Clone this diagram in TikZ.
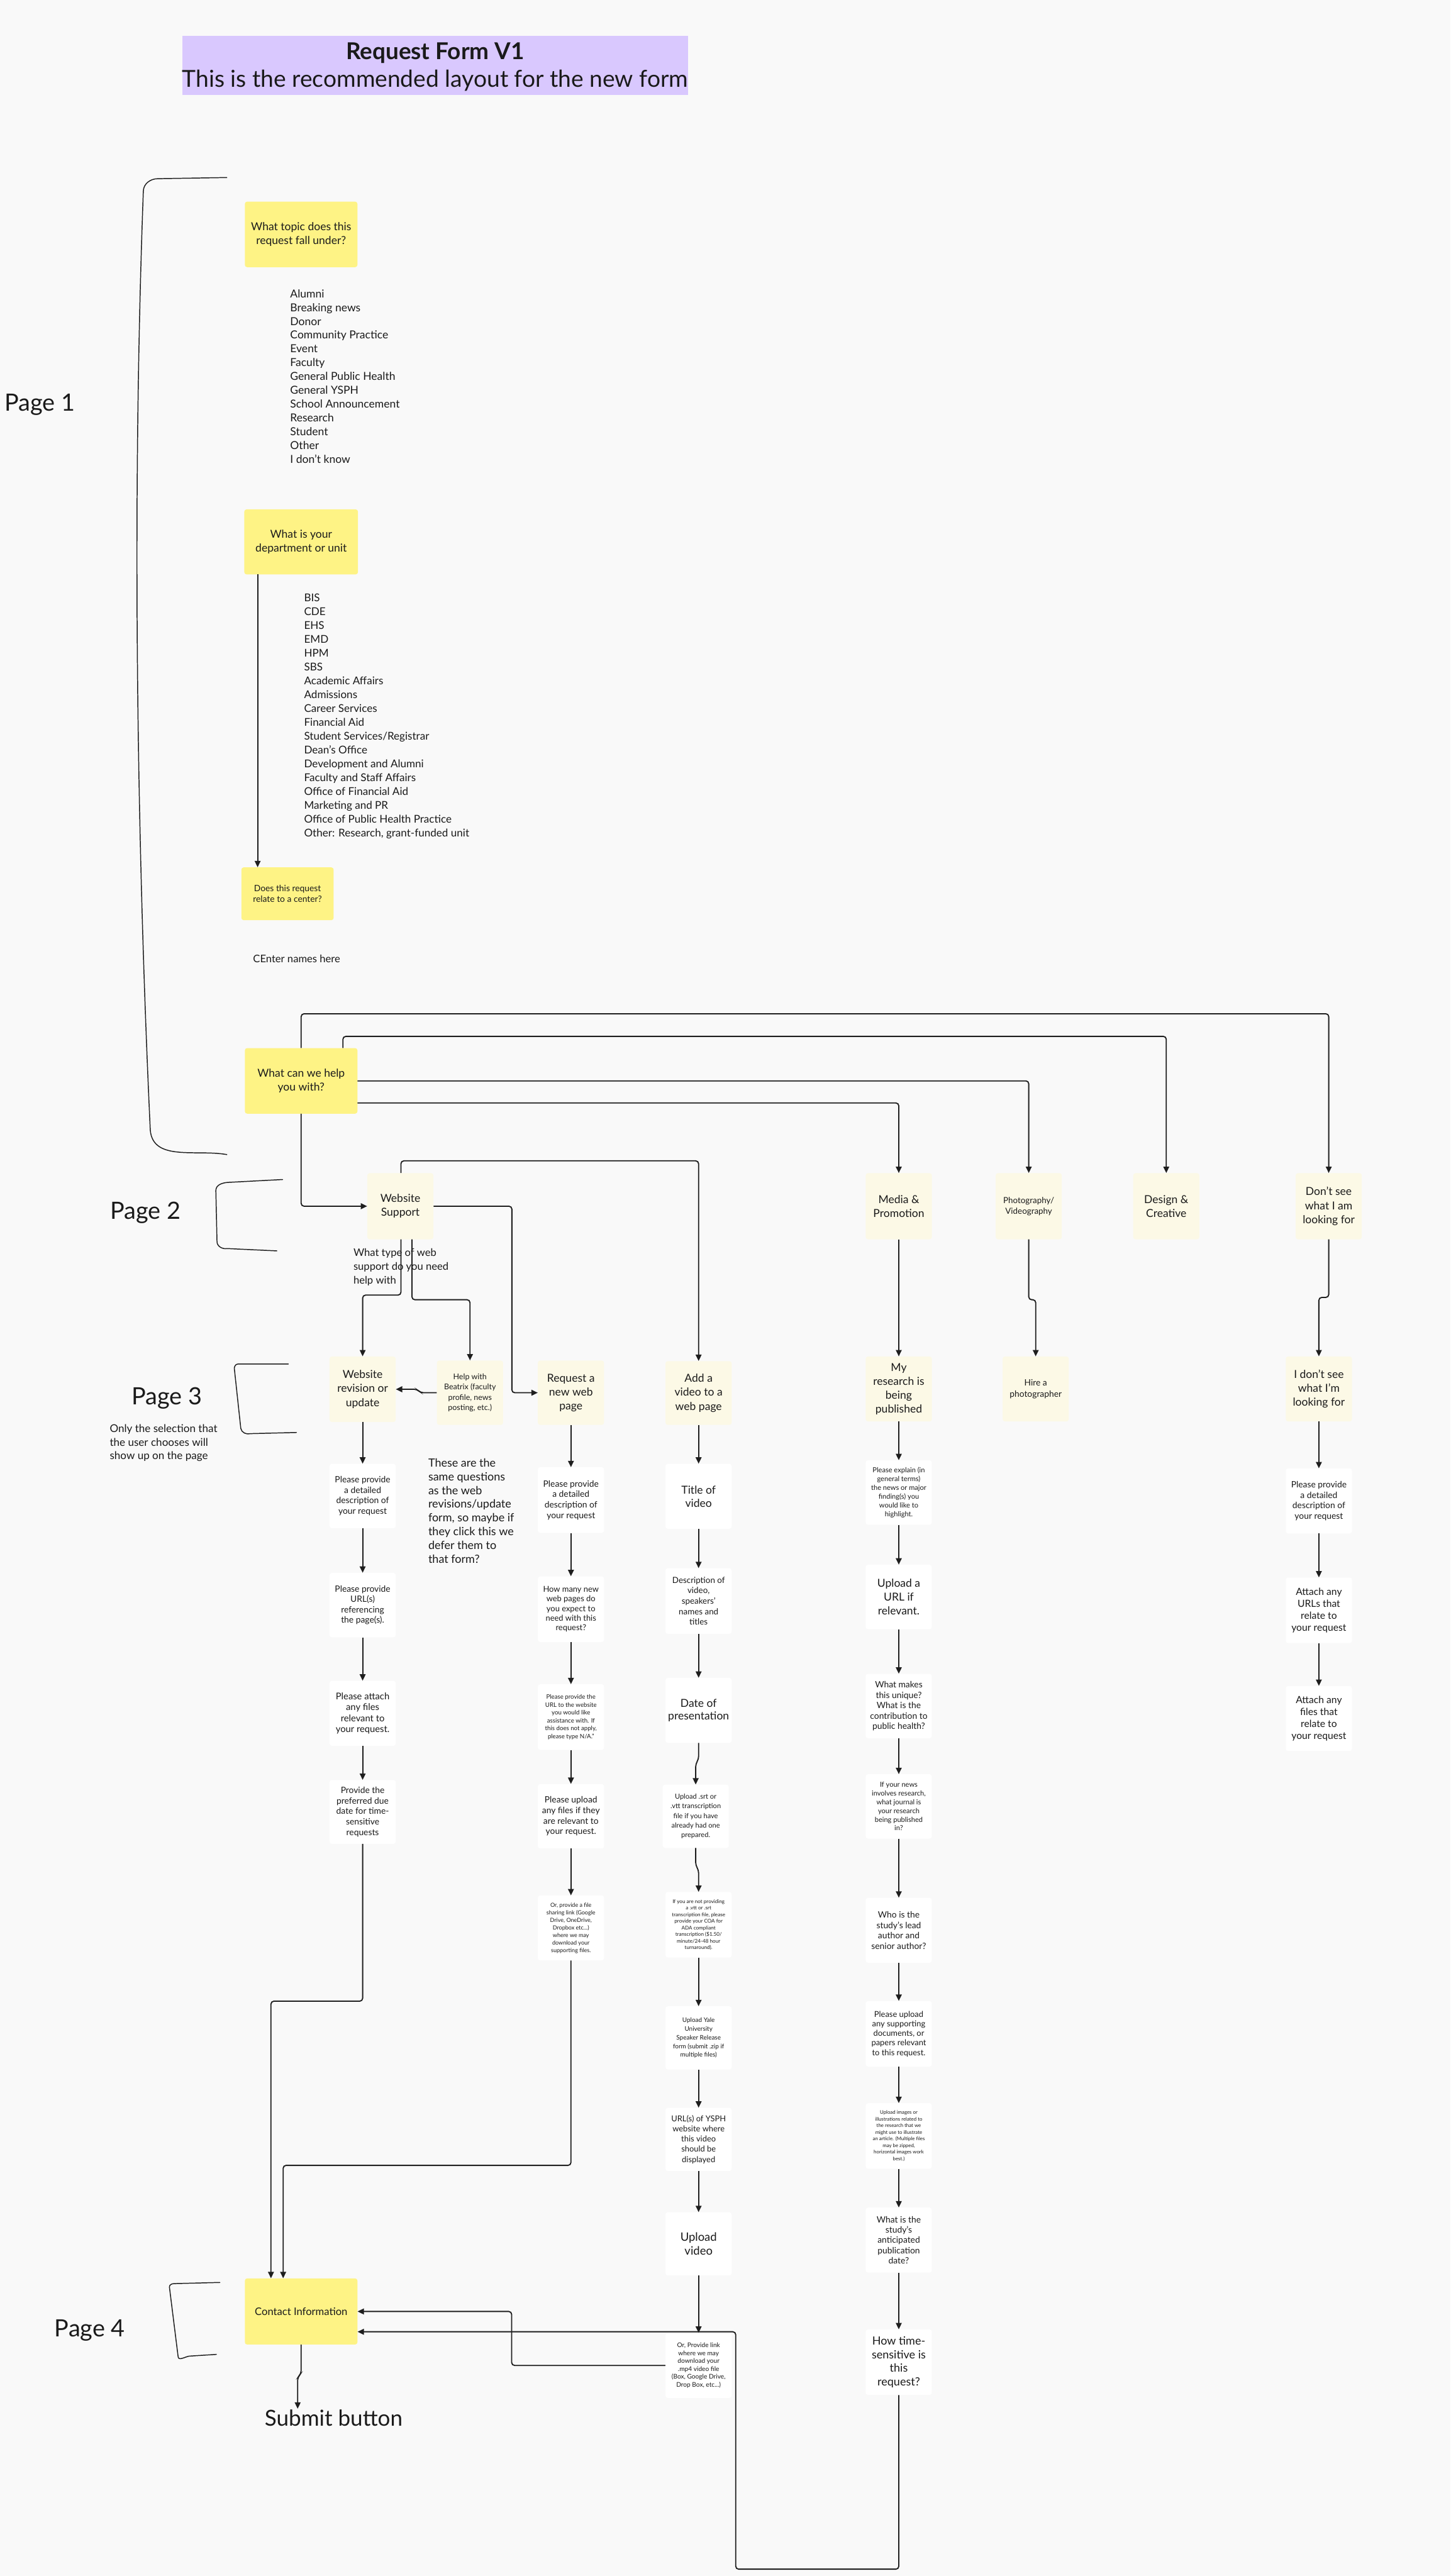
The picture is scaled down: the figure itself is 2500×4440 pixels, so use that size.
\documentclass[tikz,border=0pt]{standalone}
\usepackage{fontspec}
\setmainfont{Lato}
\usetikzlibrary{arrows.meta,calc}
\definecolor{bg}{HTML}{F9F9F9}
\definecolor{yel}{HTML}{FEF385}
\definecolor{cream}{HTML}{FCF9E6}
\definecolor{lav}{HTML}{D9C8FE}
\definecolor{lc}{HTML}{1E1E1E}
\definecolor{txt}{HTML}{1A1A1A}
\newcommand\fz[2]{\fontsize{#1}{#2}\selectfont}
\tikzset{
  base/.style={rounded corners=4pt, align=center, inner sep=0pt, text=txt},
  ybox/.style={base, fill=yel, minimum width=194pt, minimum height=113pt},
  cbox/.style={base, fill=cream, minimum width=114pt, minimum height=112pt},
  wbox/.style={base, fill=white, minimum width=114pt, minimum height=112pt},
  plain/.style={inner sep=0pt, text=txt},
  conn/.style={draw=lc, line width=2pt, rounded corners=5pt},
  arr/.style={conn, -{Triangle[length=11pt,width=10pt]}},
  brk/.style={draw=lc, line width=1.6pt, line cap=round, line join=round},
}
\begin{document}
\begin{tikzpicture}[x=1pt,y=-1pt]
\fill[bg] (0,0) rectangle (2500,4440);
\useasboundingbox (0,0) rectangle (2500,4440);

% title
\node[fill=lav, minimum width=872pt, minimum height=102pt, inner sep=0pt] (title) at (750,113) {};
\node[plain, font={\fz{40}{44}\bfseries}] (t1) at (750,91) {Request Form V1};
\node[plain, font={\fz{40.3}{46}}] (t2) at (750,139) {This is the recommended layout for the new form};

% page labels
\node[plain, anchor=west, font={\fz{41}{46}}] (p1) at (8,697) {Page 1};
\node[plain, anchor=west, font={\fz{41}{46}}] (p2) at (190,2090) {Page 2};
\node[plain, anchor=west, font={\fz{41}{46}}] (p3) at (227,2410) {Page 3};
\node[plain, anchor=west, font={\fz{41}{46}}] (p4) at (94,4017) {Page 4};
\node[plain, anchor=west, align=left, font={\fz{18.5}{23.5}}] (p3note) at (189,2487) {Only the selection that\\the user chooses will\\show up on the page};

% brackets
\draw[brk] (391,306) -- (272,308) to[out=180,in=90] (247,330) .. controls (226,900) and (238,1500) .. (259,1948) to[out=-85,in=170] (391,1990);
\draw[brk] (487,2033) -- (392,2038) to[out=185,in=90] (372,2052) -- (374,2140) to[out=-90,in=190] (392,2152) -- (477,2156);
\draw[brk] (497,2351) -- (410,2351) to[out=180,in=100] (404,2360) -- (415,2462) to[out=-80,in=195] (432,2471) -- (511,2469);
\draw[brk] (379,3934) -- (300,3936) to[out=180,in=95] (292,3942) -- (307,4062) to[out=-85,in=190] (326,4061) -- (373,4058);

% page 1
\node[ybox, font={\fz{19}{24}}] (q1) at (519,404) {What topic does this\\request fall under?};
\node[plain, anchor=west, align=left, font={\fz{19}{23.75}}] (topics) at (500,648.5) {Alumni\\Breaking news\\Donor\\Community Practice\\Event\\Faculty\\General Public Health\\General YSPH\\School Announcement\\Research\\Student\\Other\\I don't know};
\node[ybox, minimum width=196pt, minimum height=112pt, font={\fz{19}{24}}] (q2) at (519,934) {What is your\\department or unit};
\node[plain, anchor=west, align=left, font={\fz{18.5}{23.8}}] (depts) at (524,1234.5) {BIS\\CDE\\EHS\\EMD\\HPM\\SBS\\Academic Affairs\\Admissions\\Career Services\\Financial Aid\\Student Services/Registrar\\Dean’s Office\\Development and Alumni\\Faculty and Staff Affairs\\Office of Financial Aid\\Marketing and PR\\Office of Public Health Practice\\Other: Research, grant-funded unit};
\node[ybox, minimum width=159pt, minimum height=91pt, font={\fz{15}{19}}] (q3) at (495.5,1540.5) {Does this request\\relate to a center?};
\node[plain, anchor=west, font={\fz{18}{22}}] (cnames) at (436,1653) {CEnter names here};
\draw[arr] ($(q2.south)+(-75,0)$) -- ($(q3.north)+(-51.5,0)$);

% page 2
\node[ybox, font={\fz{19}{24}}] (wch) at (519,1863) {What can we help\\you with?};
\node[cbox, minimum height=114pt, font={\fz{19}{24}}] (ws) at (690,2079) {Website\\Support};
\node[cbox, minimum height=114pt, font={\fz{19}{24}}] (mp) at (1549,2079) {Media \&\\Promotion};
\node[cbox, minimum height=114pt, font={\fz{14.5}{18.5}}] (pv) at (1773,2079) {Photography/\\Videography};
\node[cbox, minimum height=114pt, font={\fz{19}{24}}] (dc) at (2010,2079) {Design \&\\Creative};
\node[cbox, minimum height=114pt, font={\fz{19}{24}}] (dsee) at (2290,2079) {Don't see\\what I am\\looking for};
\node[plain, anchor=west, align=left, font={\fz{18}{24}}] (wtype) at (609,2184) {What type of web\\support do you need\\help with};

\draw[arr] (wch.north) -- ++(0,-59) -| (dsee.north);
\draw[arr] ($(wch.north)+(72,0)$) -- ++(0,-20) -| (dc.north);
\draw[arr] (wch.east) -| (pv.north);
\draw[arr] ($(wch.east)+(0,38)$) -| (mp.north);
\draw[arr] (wch.south) |- (ws.west);

% page 3 headers
\node[cbox, minimum height=113pt, font={\fz{19}{24}}] (wr) at (625,2394.5) {Website\\revision or\\update};
\node[cbox, minimum height=111pt, font={\fz{13.5}{18}}] (bx) at (810,2400.5) {Help with\\Beatrix (faculty\\profile, news\\posting, etc.)};
\node[cbox, minimum height=111pt, font={\fz{19}{24}}] (rnwp) at (984,2400.5) {Request a\\new web\\page};
\node[cbox, minimum height=110pt, font={\fz{19}{24}}] (av) at (1204,2401) {Add a\\video to a\\web page};
\node[cbox, font={\fz{19}{24}}] (myr) at (1549,2394) {My\\research is\\being\\published};
\node[cbox, font={\fz{15}{19}}] (hp) at (1785,2394) {Hire a\\photographer};
\node[cbox, font={\fz{19}{23.5}}] (ids) at (2273,2394) {I don't see\\what I'm\\looking for};
\node[plain, anchor=west, align=left, font={\fz{19.5}{23.7}}] (defer) at (738,2604) {These are the\\same questions\\as the web\\revisions/update\\form, so maybe if\\they click this we\\defer them to\\that form?};

\draw[arr] ($(ws.north)+(1,0)$) -- ++(0,-21) -| (av.north);
\draw[arr] (ws.east) -- ++(135,0) |- (rnwp.west);
\draw[arr] ($(ws.south)+(1,0)$) -- ++(0,96) -| (wr.north);
\draw[arr] ($(ws.south)+(20,0)$) -- ++(0,104) -| (bx.north);
\draw[arr] (bx.west) -- ++(-28,0) -- ++(-6,-6) -- (wr.east);
\draw[arr] (mp.south) -- (myr.north);
\draw[arr] (pv.south) -- ++(0,104) -| (hp.north);
\draw[arr] (dsee.south) -- ++(0,100) -| (ids.north);

% website revision column
\node[wbox, minimum height=111pt, font={\fz{15}{18}}] (w1) at (625,2578.5) {Please provide\\a detailed\\description of\\your request};
\node[wbox, minimum height=111pt, font={\fz{15}{18}}] (w2) at (625,2766.5) {Please provide\\URL(s)\\referencing\\the page(s).};
\node[wbox, font={\fz{16}{19}}] (w3) at (625,2953) {Please attach\\any files\\relevant to\\your request.};
\node[wbox, minimum height=110pt, font={\fz{15}{18}}] (w4) at (625,3123) {Provide the\\preferred due\\date for time-\\sensitive\\requests};

% new web page column
\node[wbox, minimum height=113pt, font={\fz{15}{18}}] (r1) at (984,2585.5) {Please provide\\a detailed\\description of\\your request};
\node[wbox, minimum height=113pt, font={\fz{14}{16.5}}] (r2) at (984,2773.5) {How many new\\web pages do\\you expect to\\need with this\\request?};
\node[wbox, minimum height=113pt, font={\fz{10.5}{13.7}}] (r3) at (984,2959.5) {Please provide the\\URL to the website\\you would like\\assistance with. If\\this does not apply,\\please type N/A."};
\node[wbox, minimum height=111pt, font={\fz{15}{18}}] (r4) at (984,3130.5) {Please upload\\any files if they\\are relevant to\\your request.};
\node[wbox, font={\fz{9.8}{13}}] (r5) at (984,3323) {Or, provide a file\\sharing link (Google\\Drive, OneDrive,\\Dropbox etc...)\\where we may\\download your\\supporting files.};

% video column
\node[wbox, font={\fz{19}{23}}] (v1) at (1204,2579) {Title of\\video};
\node[wbox, minimum height=113pt, font={\fz{14.5}{18}}] (v2) at (1204,2759.5) {Description of\\video,\\speakers'\\names and\\titles};
\node[wbox, font={\fz{19}{21}}] (v3) at (1204,2948) {Date of\\presentation};
\node[wbox, minimum height=109pt, font={\fz{12}{16.5}}] (v4) at (1199,3130.5) {Upload .srt or\\.vtt transcription\\file if you have\\already had one\\prepared.};
\node[wbox, minimum height=113pt, font={\fz{8.8}{11.4}}] (v5) at (1204,3317.5) {If you are not providing\\a .vtt or .srt\\transcription file, please\\provide your COA for\\ADA compliant\\transcription (\$1.50/\\minute/24-48 hour\\turnaround).};
\node[wbox, minimum height=109pt, font={\fz{10.8}{15}}] (v6) at (1204,3512.5) {Upload Yale\\University\\Speaker Release\\form (submit .zip if\\multiple files)};
\node[wbox, minimum height=109pt, font={\fz{14}{17.6}}] (v7) at (1204,3687.5) {URL(s) of YSPH\\website where\\this video\\should be\\displayed};
\node[wbox, minimum height=109pt, font={\fz{20}{24}}] (v8) at (1204,3867.5) {Upload\\video};
\node[wbox, font={\fz{11}{13.6}}] (v9) at (1204,4077) {Or, Provide link\\where we may\\download your\\.mp4 video file\\(Box, Google Drive,\\Drop Box, etc...)};

% media column
\node[wbox, minimum height=111pt, font={\fz{12}{15}}] (m1) at (1549,2572.5) {Please explain (in\\general terms)\\the news or major\\finding(s) you\\would like to\\highlight.};
\node[wbox, minimum height=111pt, font={\fz{19}{23.6}}] (m2) at (1549,2752.5) {Upload a\\URL if\\relevant.};
\node[wbox, minimum height=111pt, font={\fz{15}{18}}] (m3) at (1549,2940.5) {What makes\\this unique?\\What is the\\contribution to\\public health?};
\node[wbox, minimum height=111pt, font={\fz{12}{15}}] (m4) at (1549,3113.5) {If your news\\involves research,\\what journal is\\your research\\being published\\in?};
\node[wbox, font={\fz{15}{18}}] (m5) at (1549,3327) {Who is the\\study’s lead\\author and\\senior author?};
\node[wbox, minimum height=113pt, font={\fz{14}{16.5}}] (m6) at (1549,3505.5) {Please upload\\any supporting\\documents, or\\papers relevant\\to this request.};
\node[wbox, minimum height=113pt, font={\fz{8.5}{11.4}}] (m7) at (1549,3681.5) {Upload images or\\illustrations related to\\the research that we\\might use to illustrate\\an article. (Multiple files\\may be zipped,\\horizontal images work\\best.)};
\node[wbox, font={\fz{15}{17.8}}] (m8) at (1549,3861) {What is the\\study’s\\anticipated\\publication\\date?};
\node[wbox, minimum height=113pt, font={\fz{19.5}{23.5}}] (m9) at (1549,4071.5) {How time-\\sensitive is\\this\\request?};

% right column
\node[wbox, font={\fz{15}{18}}] (d1) at (2273,2587) {Please provide\\a detailed\\description of\\your request};
\node[wbox, minimum height=113pt, font={\fz{17}{20.5}}] (d2) at (2273,2775.5) {Attach any\\URLs that\\relate to\\your request};
\node[wbox, font={\fz{17}{20.5}}] (d3) at (2273,2962) {Attach any\\files that\\relate to\\your request};

% page 4
\node[ybox, minimum height=114pt, font={\fz{18}{22}}] (ci) at (519,3984) {Contact Information};
\node[plain, font={\fz{38}{44}}, inner sep=2pt] (sb) at (575,4168) {Submit button};

% chains
\foreach \a/\b in {wr/w1,w1/w2,w2/w3,w3/w4,rnwp/r1,r1/r2,r2/r3,r3/r4,r4/r5,av/v1,v1/v2,v2/v3,v5/v6,v6/v7,v7/v8,v8/v9,myr/m1,m1/m2,m2/m3,m3/m4,m4/m5,m5/m6,m6/m7,m7/m8,m8/m9,ids/d1,d1/d2,d2/d3}
  \draw[arr] (\a.south) -- (\b.north);
\draw[arr] (v3.south) -- ++(0,28) -- ++(-5,8) -- (v4.north);
\draw[arr] (v4.south) -- ++(0,30) -- ++(5,8) -- (v5.north);

% to contact information
\draw[arr] (w4.south) -- ++(0,271) -| ($(ci.north)+(-52,0)$);
\draw[arr] (r5.south) -- ++(0,353) -| ($(ci.north)+(-31,0)$);
\draw[arr] (v9.west) -- ++(-265,0) |- (ci.east);
\draw[arr] (m9.south) -- ++(0,300) -| (1268,4019) -- ($(ci.east)+(0,35)$);
\draw[arr] (ci.south) -- ++(0,50) -- ++(-6,6) -- ($(sb.north)+(-62,0)$);
\end{tikzpicture}
\end{document}
